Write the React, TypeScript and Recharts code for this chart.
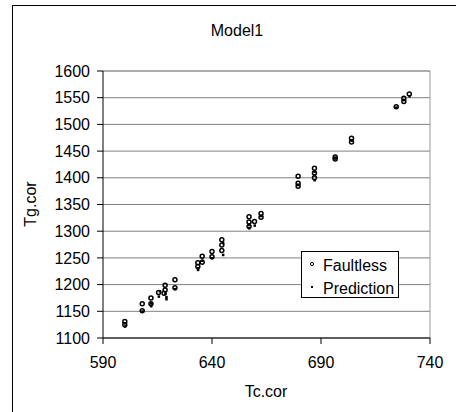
import React from "react";
import { ScatterChart, Scatter, XAxis, YAxis, CartesianGrid, ReferenceLine } from "recharts";

const faultlessTc = [600, 600, 608, 608, 612, 612, 615.5, 618.5, 618.5, 618, 623, 623, 633.5, 633.5, 635.5, 635.5, 640, 640, 644.5, 644.5, 644.5, 657, 657, 657, 659.5, 662.5, 662.5, 679.5, 679.5, 679.5, 687, 687, 687, 696.5, 696.5, 704, 704, 724.5, 728, 728, 730.5];
const faultlessTg = [1131, 1125, 1164, 1151, 1175, 1164, 1185, 1199, 1190, 1184, 1209, 1194, 1241, 1234, 1253, 1242, 1262, 1252, 1284, 1274, 1264, 1327, 1317, 1309, 1318, 1333, 1326, 1403, 1390, 1384, 1418, 1409, 1400, 1439, 1435, 1474, 1467, 1533, 1549, 1543, 1557];

const predictionTc = [600, 600, 608, 612, 612, 615.5, 616, 619, 619, 618.5, 623, 633.5, 633.5, 635.5, 640, 645, 645, 657, 657, 659.5, 662.5, 679.5, 687, 687, 687, 696.5, 704, 728, 730.5, 724.5];
const predictionTg = [1128, 1122, 1150, 1160, 1165, 1178, 1188, 1177, 1173, 1183, 1192, 1228, 1231, 1245, 1250, 1256, 1278, 1306, 1312, 1311, 1329, 1387, 1396, 1405, 1412, 1437, 1470, 1546, 1553, 1532];

const xTicks = [590, 640, 690, 740];
const yTicks = [1100, 1150, 1200, 1250, 1300, 1350, 1400, 1450, 1500, 1550, 1600];

const seriesNames = ["Faultless", "Prediction"];
const titleText = "Model1";
const xLabel = "Tc.cor";
const yLabel = "Tg.cor";

const faultless = faultlessTc.map((x, i) => ({ x, y: faultlessTg[i] }));
const prediction = predictionTc.map((x, i) => ({ x, y: predictionTg[i] }));

const FONT = "'Liberation Sans', Arial, sans-serif";

const HollowCircle = (props: any) => {
  const { cx, cy } = props;
  if (cx == null || cy == null) return null;
  return <circle cx={cx} cy={cy} r={2} fill="none" stroke="#000" strokeWidth={1.5} />;
};

const SmallDot = (props: any) => {
  const { cx, cy } = props;
  if (cx == null || cy == null) return null;
  return <rect x={cx - 1} y={cy - 1} width={2.5} height={2.5} fill="#000" />;
};

const LegendBox = () => (
  <svg width={98} height={47} style={{ display: "block" }}>
    <rect x={0.5} y={0.5} width={97} height={46} fill="#fff" stroke="#000" strokeWidth={1} />
    <circle cx={11} cy={13} r={1.6} fill="none" stroke="#000" strokeWidth={1} />
    <text x={22} y={20} fontSize={16} fontFamily={FONT} fill="#000">{seriesNames[0]}</text>
    <rect x={10} y={35} width={2} height={2} fill="#000" />
    <text x={22} y={43} fontSize={16} fontFamily={FONT} fill="#000">{seriesNames[1]}</text>
  </svg>
);

export default function App() {
  return (
    <div style={{ position: "absolute", left: 0, top: 0, width: 456, height: 412, background: "#fff", overflow: "hidden" }}>
      <div style={{ position: "absolute", left: 12, top: 5, width: 460, height: 430, border: "1px solid #000", boxSizing: "border-box" }} />
      <div style={{ position: "absolute", left: 0, top: 0 }}>
        <ScatterChart width={456} height={412} margin={{ top: 71, right: 26, bottom: 44, left: 43 }}>
          <CartesianGrid horizontal={true} vertical={false} stroke="#808080" strokeWidth={1} />
          <XAxis
            type="number"
            dataKey="x"
            domain={[590, 740]}
            ticks={xTicks}
            height={30}
            tickSize={6}
            tickMargin={13}
            axisLine={{ stroke: "#000" }}
            tickLine={{ stroke: "#000" }}
            tick={{ fill: "#000", fontSize: 16, fontFamily: FONT }}
            allowDataOverflow
          />
          <YAxis
            type="number"
            dataKey="y"
            domain={[1100, 1600]}
            ticks={yTicks}
            width={60}
            tickSize={6}
            tickMargin={7}
            axisLine={{ stroke: "#000" }}
            tickLine={{ stroke: "#000" }}
            tick={{ fill: "#000", fontSize: 16, fontFamily: FONT }}
            allowDataOverflow
          />
          <ReferenceLine x={740} stroke="#999" strokeWidth={1} />
          <ReferenceLine y={1600} stroke="#999" strokeWidth={1} />
          <Scatter name={seriesNames[0]} data={faultless} shape={<HollowCircle />} isAnimationActive={false} />
          <Scatter name={seriesNames[1]} data={prediction} shape={<SmallDot />} isAnimationActive={false} />
        </ScatterChart>
      </div>
      <div style={{ position: "absolute", left: 301, top: 251 }}>
        <LegendBox />
      </div>
      <svg width={456} height={412} style={{ position: "absolute", left: 0, top: 0, pointerEvents: "none" }}>
        <text x={237} y={35.5} textAnchor="middle" fontSize={16} fontFamily={FONT} fill="#000">{titleText}</text>
        <text x={266} y={396.5} textAnchor="middle" fontSize={16} fontFamily={FONT} fill="#000">{xLabel}</text>
        <text x={0} y={0} transform="translate(35.5,204) rotate(-90)" textAnchor="middle" fontSize={16} fontFamily={FONT} fill="#000">{yLabel}</text>
      </svg>
    </div>
  );
}
